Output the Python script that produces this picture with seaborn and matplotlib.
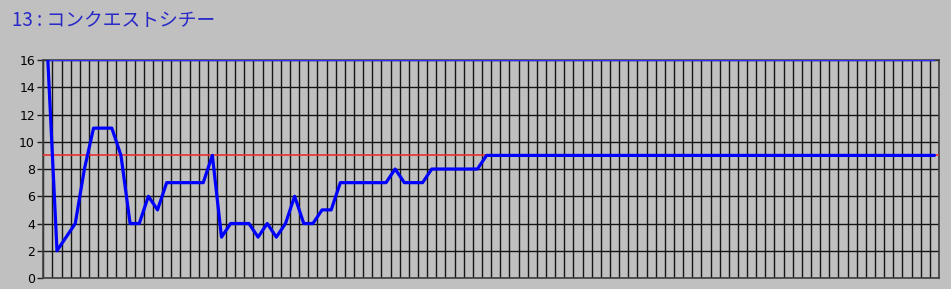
import numpy as np
import pandas as pd
import matplotlib
matplotlib.use("Agg")
import matplotlib.pyplot as plt
import seaborn as sns

title = "13 : コンクエストシチー"
values = ([16, 2, 3, 4, 8, 11, 11, 11, 9, 4, 4, 6, 5]
          + [7] * 5 + [9, 3] + [4] * 3
          + [3, 4, 3, 4, 6, 4, 4, 5, 5]
          + [7] * 6 + [8] + [7] * 3 + [8] * 6 + [9] * 50)
upper = [16] * len(values)
ref_level = 9
y_ticks = [0, 2, 4, 6, 8, 10, 12, 14, 16]

sns.set_theme(style="white")
plt.rcParams['font.family'] = ['Noto Sans CJK JP', 'DejaVu Sans']

bg = "#C0C0C0"
fig = plt.figure(figsize=(9.51, 2.89), dpi=100, facecolor=bg)
ax = fig.add_axes([0.0455, 0.038, 0.9419, 0.7543], facecolor=bg)

df = pd.DataFrame({"x": np.arange(len(values)), "v": values, "u": upper})

ax.axhline(ref_level, color="#E83030", lw=1.2, zorder=3)
sns.lineplot(data=df, x="x", y="u", ax=ax, color="#3030FF", lw=1.0, zorder=4)
sns.lineplot(data=df, x="x", y="v", ax=ax, color="#0000FF", lw=2.3, zorder=5)

n = len(values)
ax.set_xlim(-0.5, n - 0.5)
ax.set_ylim(0, 16)
ax.set_xticks(np.arange(-0.5, n, 1))
ax.set_xticklabels([])
ax.set_yticks(y_ticks)
ax.set_yticklabels([str(t) for t in y_ticks], fontsize=9, color="black",
                   family=['DejaVu Sans'])
ax.tick_params(axis="x", length=0)
ax.tick_params(axis="y", length=4, width=1, color="#202020", pad=2, left=True)
ax.grid(True, color="#151515", lw=1.0, zorder=1)
ax.set_axisbelow(True)
ax.set_xlabel("")
ax.set_ylabel("")
for s in ax.spines.values():
    s.set_color("#404040")
    s.set_linewidth(1.2)

fig.text(0.0125, 0.93, title, color="#2828C8", fontsize=13.5,
         ha="left", va="center")

fig.savefig("out.png", dpi=100, facecolor=bg)
